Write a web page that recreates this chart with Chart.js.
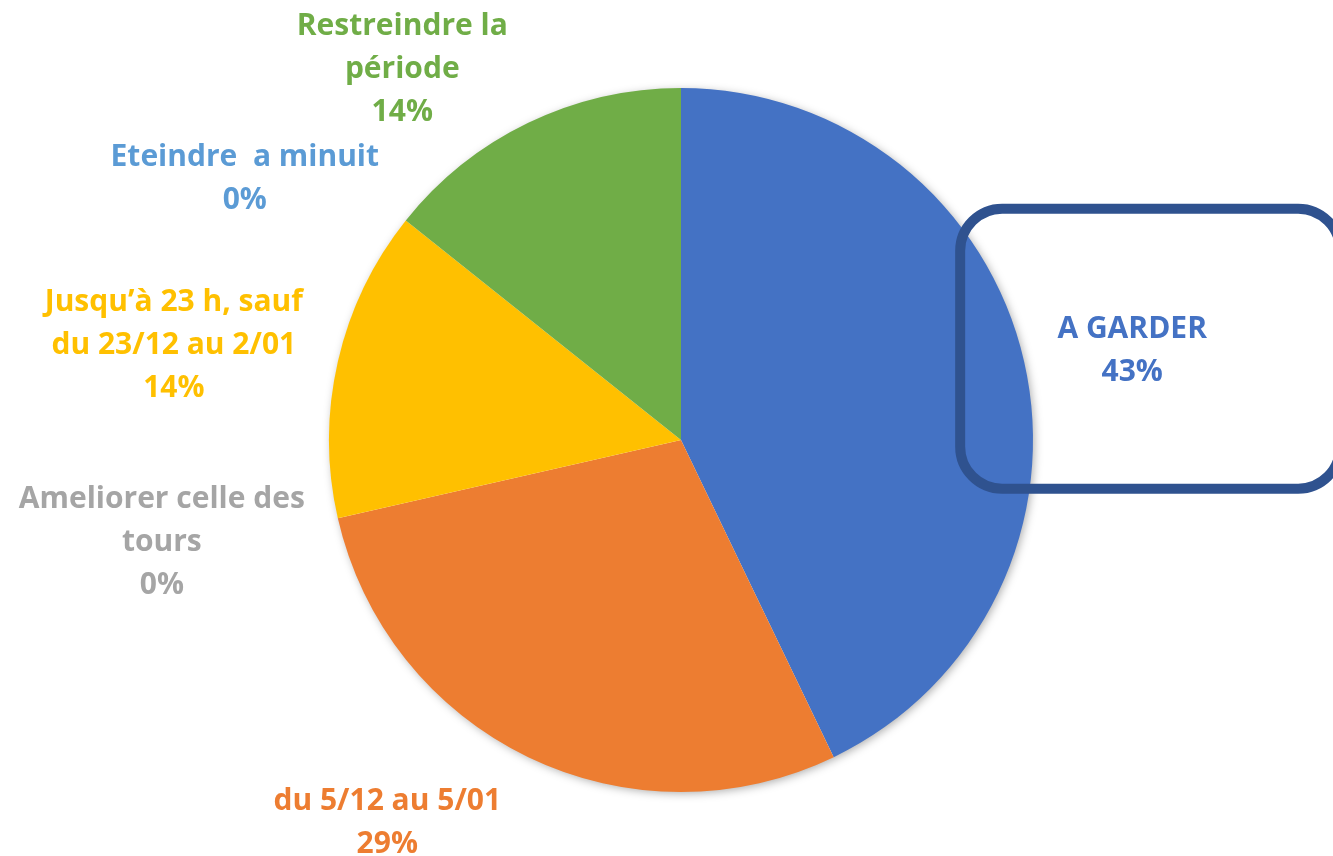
<!DOCTYPE html>
<html>
<head>
<meta charset="utf-8">
<script src="https://cdn.jsdelivr.net/npm/chart.js@4/dist/chart.umd.min.js"></script>
<style>
html,body{margin:0;padding:0;background:#fff;}
#wrap{width:1333px;height:856px;position:relative;}
</style>
</head>
<body>
<div id="wrap"><canvas id="c" width="1333" height="856"></canvas></div>
<script>
// ---- data ----
const categories = [
  "A GARDER",
  "du 5/12 au 5/01",
  "Ameliorer celle des tours",
  "Jusqu’à 23 h, sauf du 23/12 au 2/01",
  "Eteindre  a minuit",
  "Restreindre la période"
];
const labelLines = [
  ["A GARDER"],
  ["du 5/12 au 5/01"],
  ["Ameliorer celle des", "tours"],
  ["Jusqu’à 23 h, sauf", "du 23/12 au 2/01"],
  ["Eteindre  a minuit"],
  ["Restreindre la", "période"]
];
const values = [3, 2, 0, 1, 0, 1];

// ---- styles ----
const colors = ["#4472C4", "#ED7D31", "#A5A5A5", "#FFC000", "#5B9BD5", "#70AD47"];
// label offset from the slice's outer edge point (px)
const labelOffsets = [
  [108, -11], [-141, 66], [-176, 24], [-164, -16], [-161, -42], [-126, -53]
];
const FONT = 'bold 30px "Open Sans", Lato, sans-serif';
const LINE_H = 43;

const shadowPlugin = {
  id: 'pieShadow',
  beforeDatasetsDraw(chart) {
    const arc = chart.getDatasetMeta(0).data[0];
    if (!arc) return;
    const ctx = chart.ctx;
    ctx.save();
    ctx.shadowColor = 'rgba(0,0,0,0.35)';
    ctx.shadowBlur = 10;
    ctx.shadowOffsetX = 2;
    ctx.shadowOffsetY = 2;
    ctx.fillStyle = '#ffffff';
    ctx.beginPath();
    ctx.arc(arc.x, arc.y, arc.outerRadius - 1, 0, Math.PI * 2);
    ctx.fill();
    ctx.restore();
  }
};

const labelPlugin = {
  id: 'outLabels',
  afterDatasetsDraw(chart) {
    const ctx = chart.ctx;
    const meta = chart.getDatasetMeta(0);
    const data = chart.data.datasets[0].data;
    const total = data.reduce((a, b) => a + b, 0);
    ctx.save();
    ctx.font = FONT;
    ctx.textAlign = 'center';
    ctx.textBaseline = 'middle';
    meta.data.forEach((arc, i) => {
      const mid = (arc.startAngle + arc.endAngle) / 2;
      const ox = arc.x + Math.cos(mid) * arc.outerRadius;
      const oy = arc.y + Math.sin(mid) * arc.outerRadius;
      const cx = ox + labelOffsets[i][0];
      const cy = oy + labelOffsets[i][1];
      const lines = labelLines[i].concat([Math.round(data[i] / total * 100) + '%']);
      const y0 = cy - (lines.length - 1) * LINE_H / 2;
      ctx.fillStyle = colors[i];
      lines.forEach((t, k) => ctx.fillText(t, cx, y0 + k * LINE_H));
      if (i === 0) {
        // highlight box around the first label
        ctx.save();
        ctx.strokeStyle = '#2F528F';
        ctx.lineWidth = 10;
        ctx.beginPath();
        ctx.roundRect(cx - 172, cy - 142, 380, 280, 42);
        ctx.stroke();
        ctx.restore();
      }
    });
    ctx.restore();
  }
};

new Chart(document.getElementById('c'), {
  type: 'pie',
  data: {
    labels: categories,
    datasets: [{
      data: values,
      backgroundColor: colors,
      borderWidth: 0
    }]
  },
  options: {
    responsive: false,
    animation: false,
    layout: { padding: { top: 88, bottom: 64, left: 200, right: 171 } },
    plugins: {
      legend: { display: false },
      tooltip: { enabled: false }
    }
  },
  plugins: [shadowPlugin, labelPlugin]
});
</script>
</body>
</html>
